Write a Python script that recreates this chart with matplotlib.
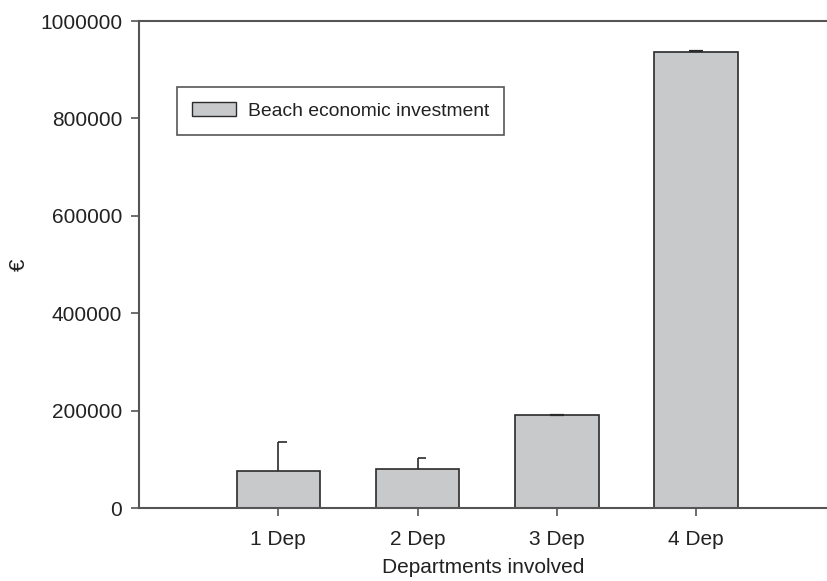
import matplotlib
matplotlib.use("Agg")
import matplotlib.pyplot as plt
from matplotlib.patches import Patch

plt.rcParams['font.family'] = ['Liberation Sans', 'DejaVu Sans']

categories = ["1 Dep", "2 Dep", "3 Dep", "4 Dep"]
investment = [76000, 81000, 190000, 937000]
upper_err = [60000, 22000, 1500, 1500]
y_ticks = [0, 200000, 400000, 600000, 800000, 1000000]

bar_face = "#c8c9cb"
edge = "#2b2b2b"
axis_col = "#555555"

fig = plt.figure(figsize=(8.27, 5.81), dpi=100)
ax = fig.add_axes([139 / 827, 1 - 508 / 581, 1 - 139 / 827, (508 - 21) / 581])

x = list(range(1, len(categories) + 1))
ax.bar(x, investment, width=0.6, color=bar_face, edgecolor=edge, linewidth=1.2, zorder=2)

# upward error whiskers; caps for the wide errors sit to the right of the whisker
for xi, v, e in zip(x, investment, upper_err):
    ax.vlines(xi, v, v + e, color=edge, linewidth=1.2, zorder=3)
    if e > 10000:
        ax.hlines(v + e, xi, xi + 0.06, color=edge, linewidth=1.2, zorder=3)
    else:
        ax.hlines(v + e, xi - 0.05, xi + 0.05, color=edge, linewidth=1.6, zorder=3)

ax.set_xlim(0, (827 - 139) / 139.3)
ax.set_ylim(0, 1000000)
ax.set_xticks(x)
ax.set_xticklabels(categories)
ax.set_yticks(y_ticks)
ax.set_yticklabels([str(t) for t in y_ticks])

ax.spines["right"].set_visible(False)
for side in ("left", "bottom", "top"):
    ax.spines[side].set_color(axis_col)
    ax.spines[side].set_linewidth(1.5)

ax.tick_params(axis="both", direction="out", length=6, width=1.2, color=axis_col,
               labelsize=15, labelcolor="#222222", pad=6)
ax.tick_params(axis="x", pad=10)

ax.set_xlabel("Departments involved", fontsize=15, color="#222222", labelpad=6)
ax.set_ylabel("€", fontsize=16, color="#222222")
ax.yaxis.set_label_coords(-0.158, 0.5)

handle = Patch(facecolor=bar_face, edgecolor=edge, linewidth=1.0)
leg = ax.legend([handle], ["Beach economic investment"], loc="upper left",
                bbox_to_anchor=((177 - 139) / 688, 1 - (87 - 21) / 487),
                prop={"size": 13.9}, frameon=True, fancybox=False, borderpad=0.78,
                handlelength=2.3, handleheight=0.75, handletextpad=0.6,
                borderaxespad=0)
leg.get_frame().set_edgecolor(edge)
leg.get_frame().set_linewidth(1.2)
for t in leg.get_texts():
    t.set_color("#222222")

fig.savefig("out.png", dpi=100)
